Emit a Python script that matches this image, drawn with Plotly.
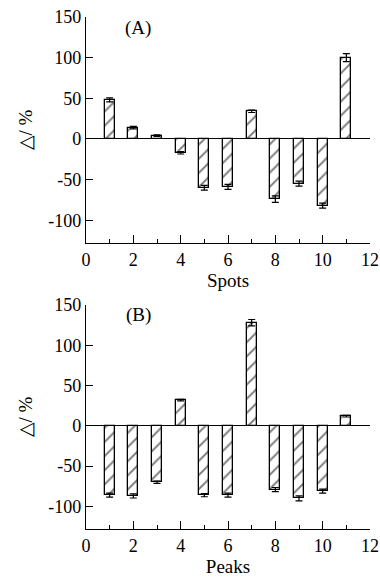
import plotly.graph_objects as go
from plotly.subplots import make_subplots

spots = [1, 2, 3, 4, 5, 6, 7, 8, 9, 10, 11]
delta_a = [48, 14, 4, -17, -60, -59, 34, -74, -55, -82, 100]
err_a = [2.5, 1.5, 1, 1.5, 3, 3, 1.5, 4, 3, 3, 5]

peaks = [1, 2, 3, 4, 5, 6, 7, 8, 9, 10, 11]
delta_b = [-86, -87, -70, 32, -86, -86, 128, -79, -90, -81, 12]
err_b = [2.5, 2.5, 1.5, 1, 2, 2.5, 4, 2.5, 3, 2.5, 1]

y_tickvals = [-100, -50, 0, 50, 100, 150]
y_ticktext = ["-100", "-50", "0", "50", "100", "150"]

FONT = "Liberation Serif"

fig = make_subplots(rows=2, cols=1, vertical_spacing=0.12)

def add_bars(x, y, e, row):
    fig.add_trace(go.Bar(
        x=x, y=y, width=0.43,
        marker=dict(color="white", line=dict(color="black", width=1.3),
                    pattern=dict(shape="/", fgcolor="black", bgcolor="white",
                                 size=10, solidity=0.2)),
        error_y=dict(type="data", array=e, visible=True, color="black",
                     thickness=1.2, width=3.5),
        showlegend=False), row=row, col=1)

add_bars(spots, delta_a, err_a, 1)
add_bars(peaks, delta_b, err_b, 2)

fig.update_layout(
    width=380, height=585,
    margin=dict(l=86, r=10, t=17, b=56, autoexpand=False),
    plot_bgcolor="white", paper_bgcolor="white",
    font=dict(family=FONT, size=18, color="black"),
    bargap=0,
)

xaxis_common = dict(range=[0, 12], dtick=2, tick0=0, ticks="inside", ticklen=8,
                    tickcolor="black", showline=True, linecolor="black", linewidth=1.3,
                    showgrid=False, zeroline=False, automargin=False,
                    minor=dict(dtick=1, tick0=0, ticks="inside", ticklen=4, tickcolor="black"),
                    tickfont=dict(family=FONT, size=18))
yaxis_common = dict(range=[-128, 150], tickvals=y_tickvals, ticktext=y_ticktext,
                    ticks="inside", ticklen=7,
                    tickcolor="black", showline=True, linecolor="black", linewidth=1.3,
                    showgrid=False, zeroline=True, zerolinecolor="black", zerolinewidth=1.3,
                    automargin=False,
                    tickfont=dict(family=FONT, size=18),
                    title=dict(text="△/ %", font=dict(family=FONT, size=19), standoff=10))

fig.update_layout(
    xaxis=dict(**xaxis_common, domain=[0, 1],
               title=dict(text="Spots", font=dict(family=FONT, size=19), standoff=4)),
    xaxis2=dict(**xaxis_common, domain=[0, 1],
                title=dict(text="Peaks", font=dict(family=FONT, size=19), standoff=4)),
    yaxis=dict(**yaxis_common, domain=[0.5586, 1.0]),
    yaxis2=dict(**yaxis_common, domain=[0.0, 0.4375]),
)

fig.add_annotation(x=2.2, y=137, xref="x", yref="y", text="(A)", showarrow=False,
                   font=dict(family=FONT, size=19))
fig.add_annotation(x=2.2, y=137, xref="x2", yref="y2", text="(B)", showarrow=False,
                   font=dict(family=FONT, size=19))

fig.write_html("out.html", config={"displayModeBar": False},
               post_script="document.body.style.margin='0';document.body.style.padding='0';")
